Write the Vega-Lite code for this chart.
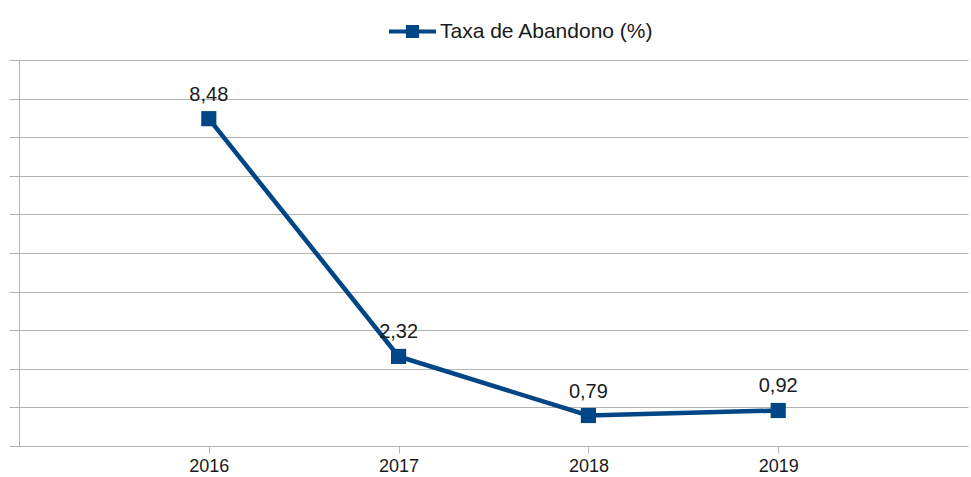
{
  "$schema": "https://vega.github.io/schema/vega-lite/v6.json",
  "width": 949,
  "height": 386,
  "autosize": {"type": "none"},
  "padding": {"left": 19, "top": 60, "right": 3, "bottom": 31},
  "background": "white",
  "config": {
    "view": {"stroke": null},
    "font": "Liberation Sans"
  },
  "data": {
    "values": [
      {"ano": "2016", "taxa": 8.48, "label": "8,48", "serie": "Taxa de Abandono (%)"},
      {"ano": "2017", "taxa": 2.32, "label": "2,32", "serie": "Taxa de Abandono (%)"},
      {"ano": "2018", "taxa": 0.79, "label": "0,79", "serie": "Taxa de Abandono (%)"},
      {"ano": "2019", "taxa": 0.92, "label": "0,92", "serie": "Taxa de Abandono (%)"}
    ]
  },
  "encoding": {
    "x": {
      "field": "ano",
      "type": "ordinal",
      "scale": {"type": "point", "padding": 1},
      "axis": {
        "title": null,
        "labelAngle": 0,
        "labelFontSize": 18,
        "labelColor": "#1a1a1a",
        "labelPadding": 4,
        "labelBaseline": "top",
        "domain": false,
        "tickColor": "#b3b3b3",
        "tickSize": 7,
        "grid": false
      }
    },
    "y": {
      "field": "taxa",
      "type": "quantitative",
      "scale": {"domain": [0, 10], "nice": false},
      "axis": {
        "title": null,
        "labels": false,
        "labelOverlap": false,
        "values": [0, 1, 2, 3, 4, 5, 6, 7, 8, 9, 10],
        "grid": true,
        "gridColor": "#b3b3b3",
        "tickColor": "#b3b3b3",
        "tickSize": 10,
        "domainColor": "#b3b3b3"
      }
    }
  },
  "layer": [
    {
      "mark": {"type": "line", "strokeWidth": 4.5, "color": "#004586"},
      "encoding": {
        "color": {
          "field": "serie",
          "type": "nominal",
          "scale": {"range": ["#004586"]},
          "legend": {
            "title": null,
            "orient": "none",
            "legendX": 370,
            "legendY": -52,
            "labelFontSize": 21,
            "labelLimit": 500,
            "labelColor": "#1a1a1a",
            "symbolType": "M-1,-0.08 H1 V0.08 H-1 Z M-0.28,-0.28 H0.28 V0.28 H-0.28 Z",
            "symbolSize": 2209,
            "symbolStrokeWidth": 0,
            "symbolFillColor": "#004586",
            "symbolOpacity": 1,
            "labelOffset": 4
          }
        }
      }
    },
    {
      "mark": {"type": "square", "size": 230, "color": "#004586", "opacity": 1, "filled": true}
    },
    {
      "mark": {"type": "text", "dy": -24, "fontSize": 20, "color": "#1a1a1a"},
      "encoding": {"text": {"field": "label"}}
    }
  ]
}
